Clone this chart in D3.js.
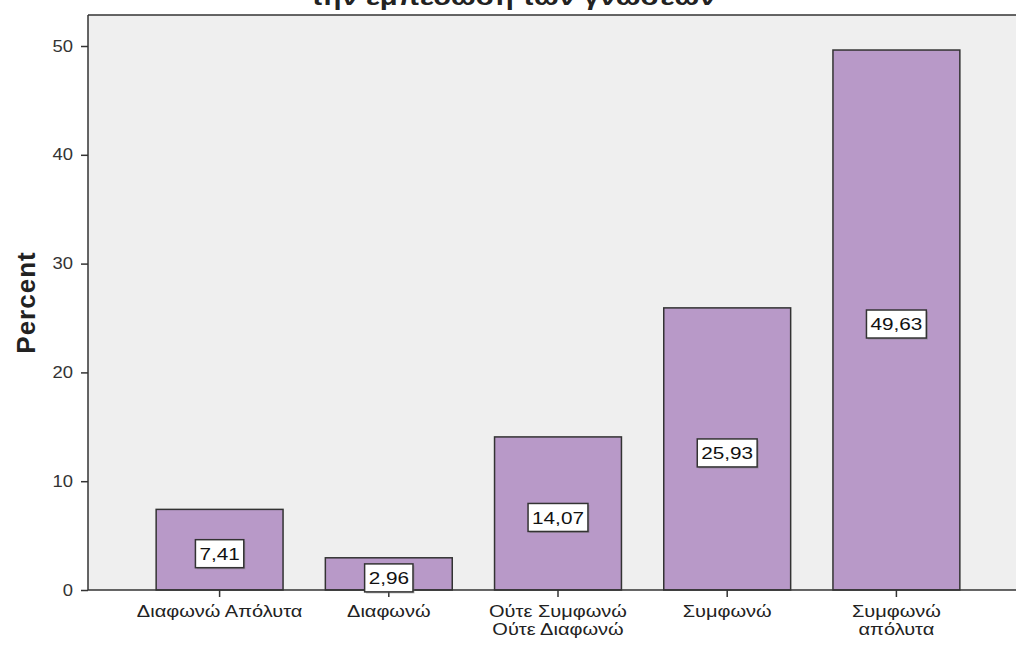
<!DOCTYPE html>
<html>
<head>
<meta charset="utf-8">
<script src="https://cdn.jsdelivr.net/npm/d3@7"></script>
<style>
  html, body { margin: 0; padding: 0; background: #fff; }
  svg { display: block; }
  text { font-family: "Liberation Sans", Arial, sans-serif; }
</style>
</head>
<body>
<svg id="chart" width="1016" height="645"></svg>
<script>
const titleText = "την εμπέδωση των γνώσεων";
const categories = ["Διαφωνώ Απόλυτα", "Διαφωνώ", "Ούτε Συμφωνώ\nΟύτε Διαφωνώ", "Συμφωνώ", "Συμφωνώ\nαπόλυτα"];
const values = [7.41, 2.96, 14.07, 25.93, 49.63];
const valueLabels = ["7,41", "2,96", "14,07", "25,93", "49,63"];
const yTicks = [0, 10, 20, 30, 40, 50];
const yLabel = "Percent";

const svg = d3.select("#chart");
const plot = { left: 88, top: 15, right: 1016, bottom: 590 };
const sx = 1.22; // horizontal stretch of the reference's text

const x = d3.scaleBand()
  .domain(categories)
  .range([135, 981])
  .paddingInner(0.25)
  .paddingOuter(0.125);

const y = d3.scaleLinear()
  .domain([0, 52.85])
  .range([plot.bottom, plot.top]);

// plot background
svg.append("rect")
  .attr("x", plot.left).attr("y", plot.top)
  .attr("width", plot.right - plot.left).attr("height", plot.bottom - plot.top)
  .attr("fill", "#efefef");

// top border
svg.append("line")
  .attr("x1", plot.left).attr("x2", plot.right)
  .attr("y1", plot.top).attr("y2", plot.top)
  .attr("stroke", "#333").attr("stroke-width", 1.5);

// title (clipped at top, as in the reference)
svg.append("text")
  .attr("transform", `translate(513,5) scale(${sx},1)`)
  .attr("text-anchor", "middle")
  .attr("font-size", 24).attr("font-weight", "bold")
  .attr("fill", "#222")
  .text(titleText);

// bars
svg.append("g").selectAll("rect")
  .data(values)
  .join("rect")
  .attr("x", (d, i) => x(categories[i]))
  .attr("y", d => y(d))
  .attr("width", x.bandwidth())
  .attr("height", d => y(0) - y(d))
  .attr("fill", "#b899c8")
  .attr("stroke", "#333")
  .attr("stroke-width", 1.5);

// y axis
const yAxis = svg.append("g")
  .attr("transform", `translate(${plot.left},0)`)
  .call(d3.axisLeft(y).tickValues(yTicks).tickSize(7).tickPadding(3).tickFormat(d3.format("d")));
yAxis.select(".domain").attr("stroke", "#333").attr("stroke-width", 1.5)
  .attr("d", `M0,${plot.top}V${plot.bottom}`);
yAxis.selectAll(".tick line").attr("stroke", "#333").attr("stroke-width", 1.5);
yAxis.selectAll(".tick text")
  .attr("x", null)
  .attr("transform", `translate(-15,0) scale(1.15,1)`)
  .attr("font-size", 16).attr("fill", "#333")
  .attr("font-family", "Liberation Sans, Arial, sans-serif");

// x axis
const xAxis = svg.append("g")
  .attr("transform", `translate(0,${plot.bottom})`)
  .call(d3.axisBottom(x).tickSize(7).tickFormat(""));
xAxis.select(".domain").attr("stroke", "#333").attr("stroke-width", 1.5)
  .attr("d", `M${plot.left},0H${plot.right}`);
xAxis.selectAll(".tick line").attr("stroke", "#333").attr("stroke-width", 1.5);
xAxis.selectAll(".tick").each(function(d) {
  const lines = d.split("\n");
  const t = d3.select(this).append("text")
    .attr("transform", `scale(1.25,1)`)
    .attr("text-anchor", "middle")
    .attr("font-size", 16)
    .attr("fill", "#222");
  lines.forEach((ln, k) => {
    t.append("tspan").attr("x", 0).attr("y", 27 + k * 18).text(ln);
  });
});

// value labels
const lab = svg.append("g").selectAll("g")
  .data(values)
  .join("g")
  .attr("transform", (d, i) => `translate(${x(categories[i]) + x.bandwidth() / 2},${y(d / 2) + 4})`);
lab.append("text")
  .attr("transform", `scale(${sx},1)`)
  .attr("text-anchor", "middle")
  .attr("dy", "0.36em")
  .attr("font-size", 17)
  .attr("fill", "#111")
  .text((d, i) => valueLabels[i])
  .each(function() {
    const bb = this.getBBox();
    const g = d3.select(this.parentNode);
    const w = bb.width * sx + 8, h = 28;
    g.insert("rect", "text")
      .attr("x", -w / 2 + 1.5).attr("y", -h / 2 + 1.5)
      .attr("width", w).attr("height", h)
      .attr("fill", "#777").attr("opacity", 0.5);
    g.insert("rect", "text")
      .attr("x", -w / 2).attr("y", -h / 2)
      .attr("width", w).attr("height", h)
      .attr("fill", "#fff")
      .attr("stroke", "#333")
      .attr("stroke-width", 1.5);
  });

// y label
svg.append("text")
  .attr("transform", `translate(35,${(plot.top + plot.bottom) / 2}) rotate(-90)`)
  .attr("text-anchor", "middle")
  .attr("font-size", 26).attr("font-weight", "bold")
  .attr("letter-spacing", 1)
  .attr("fill", "#222")
  .text(yLabel);
</script>
</body>
</html>
